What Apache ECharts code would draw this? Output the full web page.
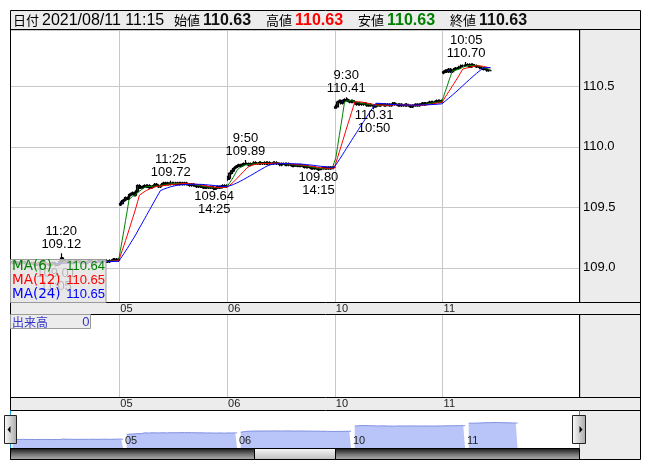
<!DOCTYPE html>
<html><head><meta charset="utf-8">
<script src="https://cdn.jsdelivr.net/npm/echarts@6/dist/echarts.min.js"></script>
<style>html,body{margin:0;padding:0;background:#fff}#c{width:653px;height:470px}</style>
</head><body><div id="c"></div><script>
// ---------------- data (5-minute bars, USD/JPY style prices) ----------------
const days = ['08/04', '08/05', '08/06', '08/10', '08/11'];
const dayTicks = ['04', '05', '06', '10', '11'];
const headerYear = '2021';

const open04 = [109.05,109.04,109.05,109.04,109.03,109.04,109.05,109.05,109.04,109.03,109.03, 109.04,109.04,109.03,109.02,109.03,109.04,109.04,109.05,109.04,109.03, 109.03,109.02,109.03,109.04,109.03,109.02,109.03,109.05,109.08,109.06, 109.05,109.05,109.06,109.05,109.04,109.05,109.05,109.06,109.05,109.04, 109.05,109.05,109.04,109.05,109.06,109.05,109.05,109.04,109.05,109.05, 109.06,109.05,109.06,109.06,109.05,109.05,109.06,109.06,109.07,109.06,109.07];
const high04 = [109.06,109.06,109.05,109.05,109.05,109.06,109.06,109.06,109.05,109.04,109.05, 109.05,109.05,109.04,109.04,109.05,109.05,109.06,109.06,109.05,109.04, 109.04,109.04,109.05,109.05,109.04,109.04,109.06,109.12,109.09,109.07, 109.06,109.07,109.07,109.06,109.06,109.06,109.07,109.07,109.06,109.06, 109.06,109.06,109.06,109.07,109.07,109.06,109.06,109.06,109.06,109.07, 109.07,109.07,109.07,109.07,109.06,109.07,109.07,109.08,109.08,109.08,109.08];
const low04 = [109.03,109.03,109.03,109.02,109.02,109.03,109.04,109.03,109.02,109.02,109.02, 109.03,109.02,109.02,109.02,109.02,109.03,109.03,109.03,109.02,109.02, 109.02,109.02,109.02,109.02,109.01,109.02,109.02,109.04,109.05,109.04, 109.04,109.04,109.04,109.03,109.03,109.04,109.04,109.04,109.03,109.03, 109.04,109.03,109.03,109.04,109.04,109.04,109.03,109.03,109.04,109.04, 109.04,109.04,109.05,109.04,109.04,109.04,109.05,109.05,109.05,109.05,109.05];
const close04 = [109.04,109.05,109.04,109.03,109.04,109.05,109.05,109.04,109.03,109.03,109.04, 109.04,109.03,109.02,109.03,109.04,109.04,109.05,109.04,109.03,109.03, 109.02,109.03,109.04,109.03,109.02,109.03,109.05,109.08,109.06,109.05, 109.05,109.06,109.05,109.04,109.05,109.05,109.06,109.05,109.04,109.05, 109.05,109.04,109.05,109.06,109.05,109.05,109.04,109.05,109.05,109.06, 109.05,109.06,109.06,109.05,109.05,109.06,109.06,109.07,109.06,109.07,109.06];

const open05 = [109.52,109.53,109.55,109.56,109.58,109.57,109.60,109.61,109.62,109.60,109.63, 109.68,109.67,109.66,109.67,109.68,109.67,109.68,109.66,109.67,109.68, 109.69,109.68,109.67,109.68,109.69,109.70,109.69,109.70,109.69,109.70, 109.70,109.69,109.70,109.69,109.70,109.70,109.69,109.70,109.69,109.69, 109.68,109.69,109.68,109.68,109.67,109.68,109.67,109.67,109.66,109.67, 109.66,109.66,109.67,109.66,109.65,109.66,109.67,109.66,109.67,109.68,109.67];
const high05 = [109.55,109.56,109.57,109.59,109.59,109.61,109.62,109.63,109.63,109.64,109.69, 109.69,109.68,109.68,109.69,109.69,109.69,109.69,109.68,109.69,109.70, 109.70,109.69,109.69,109.70,109.71,109.71,109.71,109.70,109.72,109.71, 109.71,109.71,109.71,109.71,109.71,109.71,109.71,109.71,109.70,109.70, 109.70,109.70,109.69,109.69,109.69,109.69,109.68,109.68,109.68,109.68, 109.67,109.68,109.68,109.67,109.67,109.68,109.68,109.68,109.69,109.69,109.69];
const low05 = [109.51,109.52,109.54,109.55,109.56,109.56,109.59,109.60,109.59,109.59,109.62, 109.65,109.65,109.65,109.66,109.66,109.66,109.65,109.65,109.66,109.67, 109.67,109.66,109.66,109.67,109.68,109.68,109.68,109.68,109.68,109.69, 109.68,109.68,109.68,109.68,109.69,109.68,109.68,109.68,109.68,109.67, 109.67,109.67,109.67,109.66,109.66,109.66,109.66,109.65,109.65,109.65, 109.65,109.65,109.65,109.64,109.65,109.65,109.65,109.66,109.66,109.66,109.66];
const close05 = [109.53,109.55,109.56,109.58,109.57,109.60,109.61,109.62,109.60,109.63,109.68, 109.67,109.66,109.67,109.68,109.67,109.68,109.66,109.67,109.68,109.69, 109.68,109.67,109.68,109.69,109.70,109.69,109.70,109.69,109.70,109.70, 109.69,109.70,109.69,109.70,109.70,109.69,109.70,109.69,109.69,109.68, 109.69,109.68,109.68,109.67,109.68,109.67,109.67,109.66,109.67,109.66, 109.66,109.67,109.66,109.65,109.66,109.67,109.66,109.67,109.68,109.67,109.68];

const open06 = [109.73,109.74,109.78,109.80,109.82,109.83,109.84,109.85,109.84,109.85,109.86, 109.86,109.86,109.85,109.86,109.86,109.87,109.86,109.86,109.87,109.86, 109.86,109.87,109.86,109.87,109.86,109.86,109.87,109.87,109.86,109.86, 109.85,109.86,109.86,109.85,109.86,109.85,109.85,109.84,109.85,109.85, 109.84,109.85,109.84,109.84,109.83,109.84,109.83,109.83,109.82,109.83, 109.82,109.82,109.81,109.82,109.82,109.83,109.82,109.82,109.83,109.82,109.83];
const high06 = [109.76,109.79,109.81,109.83,109.84,109.85,109.86,109.86,109.86,109.87,109.89, 109.87,109.87,109.87,109.87,109.88,109.88,109.87,109.88,109.88,109.87, 109.88,109.88,109.88,109.88,109.87,109.88,109.88,109.88,109.87,109.87, 109.87,109.87,109.87,109.87,109.87,109.86,109.86,109.86,109.86,109.86, 109.86,109.86,109.85,109.85,109.85,109.85,109.84,109.84,109.84,109.84, 109.83,109.83,109.83,109.83,109.84,109.84,109.83,109.84,109.84,109.84,109.84];
const low06 = [109.72,109.73,109.77,109.79,109.81,109.82,109.83,109.83,109.83,109.84,109.85, 109.85,109.84,109.84,109.85,109.85,109.85,109.85,109.85,109.85,109.85, 109.85,109.85,109.85,109.85,109.85,109.85,109.86,109.85,109.85,109.84, 109.84,109.85,109.84,109.84,109.84,109.84,109.83,109.83,109.84,109.83, 109.83,109.83,109.83,109.82,109.82,109.82,109.82,109.81,109.81,109.81, 109.81,109.80,109.81,109.81,109.81,109.81,109.81,109.81,109.81,109.82,109.82];
const close06 = [109.74,109.78,109.80,109.82,109.83,109.84,109.85,109.84,109.85,109.86,109.86, 109.86,109.85,109.86,109.86,109.87,109.86,109.86,109.87,109.86,109.86, 109.87,109.86,109.87,109.86,109.86,109.87,109.87,109.86,109.86,109.85, 109.86,109.86,109.85,109.86,109.85,109.85,109.84,109.85,109.85,109.84, 109.85,109.84,109.84,109.83,109.84,109.83,109.83,109.82,109.83,109.82, 109.82,109.81,109.82,109.82,109.83,109.82,109.82,109.83,109.82,109.83,109.83];

const open10 = [110.32,110.33,110.37,110.38,110.36,110.38,110.39,110.39,110.38,110.37,110.38, 110.37,110.36,110.35,110.36,110.35,110.35,110.36,110.35,110.34,110.35, 110.34,110.34,110.33,110.34,110.35,110.34,110.35,110.35,110.34,110.35, 110.35,110.34,110.35,110.36,110.35,110.35,110.34,110.35,110.34,110.34, 110.35,110.34,110.34,110.33,110.34,110.34,110.35,110.34,110.35,110.35, 110.36,110.35,110.36,110.36,110.37,110.36,110.37,110.37,110.38,110.37,110.38];
const high10 = [110.35,110.38,110.39,110.39,110.39,110.40,110.41,110.40,110.39,110.39,110.39, 110.38,110.37,110.37,110.37,110.36,110.37,110.37,110.36,110.36,110.36, 110.35,110.35,110.35,110.36,110.36,110.36,110.36,110.36,110.36,110.36, 110.36,110.36,110.37,110.37,110.36,110.36,110.36,110.36,110.35,110.36, 110.36,110.35,110.35,110.35,110.35,110.36,110.36,110.36,110.36,110.37, 110.37,110.37,110.37,110.38,110.38,110.38,110.38,110.39,110.39,110.39,110.39];
const low10 = [110.32,110.33,110.36,110.35,110.35,110.37,110.38,110.37,110.36,110.36,110.36, 110.35,110.34,110.34,110.34,110.34,110.34,110.34,110.33,110.33,110.33, 110.33,110.31,110.33,110.33,110.33,110.33,110.34,110.33,110.33,110.34, 110.33,110.33,110.34,110.34,110.34,110.33,110.33,110.33,110.33,110.33, 110.33,110.33,110.32,110.32,110.33,110.33,110.33,110.33,110.34,110.34, 110.34,110.34,110.35,110.35,110.35,110.35,110.36,110.36,110.36,110.36,110.36];
const close10 = [110.33,110.37,110.38,110.36,110.38,110.39,110.39,110.38,110.37,110.38,110.37, 110.36,110.35,110.36,110.35,110.35,110.36,110.35,110.34,110.35,110.34, 110.34,110.33,110.34,110.35,110.34,110.35,110.35,110.34,110.35,110.35, 110.34,110.35,110.36,110.35,110.35,110.34,110.35,110.34,110.34,110.35, 110.34,110.34,110.33,110.34,110.34,110.35,110.34,110.35,110.35,110.36, 110.35,110.36,110.36,110.37,110.36,110.37,110.37,110.38,110.37,110.38,110.37];

const open11 = [110.61,110.62,110.63,110.62,110.64,110.62,110.63,110.64,110.65,110.65,110.66, 110.67,110.67,110.67,110.68,110.68,110.66,110.68,110.67,110.67,110.66, 110.66,110.65,110.65,110.64,110.64,110.63,110.63];
const high11 = [110.63,110.64,110.64,110.65,110.65,110.64,110.65,110.66,110.66,110.67,110.68, 110.68,110.68,110.70,110.69,110.69,110.69,110.69,110.68,110.68,110.67, 110.67,110.66,110.66,110.65,110.65,110.64,110.63];
const low11 = [110.60,110.61,110.61,110.61,110.61,110.61,110.62,110.63,110.64,110.64,110.65, 110.66,110.66,110.66,110.67,110.65,110.65,110.66,110.66,110.65,110.65, 110.64,110.64,110.63,110.63,110.62,110.62,110.63];
const close11 = [110.62,110.63,110.62,110.64,110.62,110.63,110.64,110.65,110.65,110.66,110.67, 110.67,110.67,110.68,110.68,110.66,110.68,110.67,110.67,110.66,110.66, 110.65,110.65,110.64,110.64,110.63,110.63,110.63];

// swing high / low annotations shown on the chart
const swingDays   = ['08/04', '08/04', '08/05', '08/05', '08/06', '08/06', '08/10', '08/10', '08/11'];
const swingTimes  = ['11:20', '11:05', '11:25', '14:25', '9:50', '14:15', '9:30', '10:50', '10:05'];
const swingPrices = [109.12, 109.01, 109.72, 109.64, 109.89, 109.80, 110.41, 110.31, 110.70];
const swingKinds  = ['high', 'low', 'high', 'low', 'high', 'low', 'high', 'low', 'high'];

const maPeriods = [6, 12, 24];
const maColors = ['#008000', '#ff0000', '#0000ff'];
const volumeNow = 0;

// ---------------- assemble ----------------
const opens = [open04, open05, open06, open10, open11];
const highs = [high04, high05, high06, high10, high11];
const lows = [low04, low05, low06, low10, low11];
const closes = [close04, close05, close06, close10, close11];

const sessionTimes = [];
for (let m = 540; m <= 690; m += 5) sessionTimes.push(Math.floor(m / 60) + ':' + String(m % 60).padStart(2, '0'));
for (let m = 750; m <= 900; m += 5) sessionTimes.push(Math.floor(m / 60) + ':' + String(m % 60).padStart(2, '0'));

const TOTAL_SLOTS = 328;
const cats = ['pad0'];
const ohlc = [['-', '-', '-', '-']];
const closeSeq = [];
const dayStartIdx = {};
days.forEach((d, di) => {
  closes[di].forEach((c, i) => {
    if (i === 0 && di > 0) dayStartIdx[cats.length] = dayTicks[di];
    cats.push(d + ' ' + sessionTimes[i]);
    ohlc.push([opens[di][i], c, lows[di][i], highs[di][i]]);
    closeSeq.push(c);
  });
});
while (cats.length < TOTAL_SLOTS) cats.push('pad' + cats.length);

function movingAvg(n) {
  const out = ['-'];
  for (let i = 0; i < closeSeq.length; i++) {
    if (i < n - 1) { out.push('-'); continue; }
    let s = 0;
    for (let k = i - n + 1; k <= i; k++) s += closeSeq[k];
    out.push(+(s / n).toFixed(4));
  }
  return out;
}
const maData = maPeriods.map(movingAvg);

// navigator: one gap slot before each day, 62 slots per day
const navCats = [], navData = [], navStart = {};
days.forEach((d, di) => {
  if (di > 0) navStart[navCats.length] = dayTicks[di];
  navCats.push('g' + di); navData.push('-');
  for (let i = 0; i < 62; i++) {
    navCats.push(d + ' ' + sessionTimes[i]);
    navData.push(i < closes[di].length ? closes[di][i] : '-');
  }
});

const markData = swingDays.map((d, i) => {
  const isHigh = swingKinds[i] === 'high';
  const p = swingPrices[i].toFixed(2);
  return {
    coord: [cats.indexOf(d + ' ' + swingTimes[i]), swingPrices[i]],
    label: { position: isHigh ? 'top' : 'bottom', distance: isHigh ? 2 : 0,
      formatter: isHigh ? swingTimes[i] + '\n' + p : p + '\n' + swingTimes[i] }
  };
});

const last = ohlc[ohlc.length - 1];
const lastDay = days[days.length - 1];
const lastTime = sessionTimes[closes[closes.length - 1].length - 1];
const maLast = maData.map(a => a[a.length - 1].toFixed(2));

const NUM = "'Liberation Sans', Arial, sans-serif";
const CJK = "'Noto Sans CJK JP', sans-serif";
const GRID_L = 10, GRID_W = 570;

// ---------------- graphics (frame, header, legend boxes, navigator chrome) ----------------
const g = [];
const rect = (x, y, w, h, style, z) => g.push({ type: 'rect', z: z, shape: { x, y, width: w, height: h }, style });
const line = (x1, y1, x2, y2, stroke, z) => g.push({ type: 'line', z: z, shape: { x1, y1, x2, y2 }, style: { stroke: stroke || '#000', lineWidth: 1 } });
const text = (x, y, t, font, fill, align, z) => g.push({ type: 'text', z: z || 60, x, y, style: { text: t, font, fill, align: align || 'left', verticalAlign: 'middle' } });

// backgrounds
rect(580, 29.5, 60.5, 430, { fill: '#ececec' }, -1);
rect(10.5, 302.5, 630, 11.5, { fill: '#ececec' }, -1);
rect(10.5, 397.5, 630, 13, { fill: '#ececec' }, -1);
rect(10.5, 10.5, 630, 19, { fill: '#ececec' }, -1);
// frame lines
rect(10.5, 10.5, 630, 449, { fill: 'none', stroke: '#000', lineWidth: 1 }, 45);
line(10.5, 29.5, 640.5, 29.5, '#000', 45);
line(10.5, 302.5, 640.5, 302.5, '#000', 45);
line(10.5, 314.5, 640.5, 314.5, '#000', 45);
line(10.5, 397.5, 640.5, 397.5, '#000', 45);
line(10.5, 410.5, 640.5, 410.5, '#000', 45);
line(579.5, 29.5, 579.5, 302.5, '#000', 45);
line(579.5, 314.5, 579.5, 397.5, '#000', 45);
line(10.5, 410.5, 10.5, 448.5, '#1e9fdf', 46);
line(579.5, 410.5, 579.5, 448.5, '#1e9fdf', 46);

// header
text(13, 20.5, '日付', '13px ' + CJK, '#000');
text(42, 20.5, headerYear + '/' + lastDay + ' ' + lastTime, '16px ' + NUM, '#000');
text(174, 20.5, '始値', '13px ' + CJK, '#000');
text(203, 20.5, last[0].toFixed(2), 'bold 16px ' + NUM, '#111');
text(266, 20.5, '高値', '13px ' + CJK, '#000');
text(295, 20.5, last[3].toFixed(2), 'bold 16px ' + NUM, '#ff0000');
text(358, 20.5, '安値', '13px ' + CJK, '#000');
text(387, 20.5, last[2].toFixed(2), 'bold 16px ' + NUM, '#008000');
text(450, 20.5, '終値', '13px ' + CJK, '#000');
text(479, 20.5, last[1].toFixed(2), 'bold 16px ' + NUM, '#111');

// MA legend box
rect(10.5, 259.5, 95.5, 43, { fill: 'rgba(226,226,226,0.8)', stroke: '#9a9a9a', lineWidth: 1 }, 50);
maPeriods.forEach((p, i) => {
  const y = 266.5 + i * 14;
  text(12, y, 'MA(' + p + ')', "13.5px 'DejaVu Sans', sans-serif", maColors[i]);
  text(105, y, maLast[i], '13px ' + NUM, maColors[i], 'right');
});

// volume box
rect(10.5, 314.5, 80, 14, { fill: '#ececec', stroke: '#9a9a9a', lineWidth: 1 }, 50);
text(12, 322, '出来高', '12px ' + CJK, '#3434c8');
text(89.5, 322, String(volumeNow), '13px ' + NUM, '#3434c8', 'right');

// scrollbar
rect(10.5, 448.5, 569, 11, { fill: { type: 'linear', x: 0, y: 0, x2: 0, y2: 1, colorStops: [{ offset: 0, color: '#111' }, { offset: 0.55, color: '#777' }, { offset: 1, color: '#b5b5b5' }] }, stroke: '#000', lineWidth: 1 }, 50);
rect(254.5, 448.5, 81, 11, { fill: { type: 'linear', x: 0, y: 0, x2: 0, y2: 1, colorStops: [{ offset: 0, color: '#fafafa' }, { offset: 1, color: '#bdbdbd' }] }, stroke: '#000', lineWidth: 1 }, 51);
// navigator buttons
const btnFill = { type: 'linear', x: 0, y: 0, x2: 1, y2: 0, colorStops: [{ offset: 0, color: '#fdfdfd' }, { offset: 1, color: '#a8a8a8' }] };
rect(4.5, 415.5, 12, 28, { fill: btnFill, stroke: '#222', lineWidth: 1 }, 55);
rect(572.5, 415.5, 13, 28, { fill: btnFill, stroke: '#222', lineWidth: 1 }, 55);
g.push({ type: 'polygon', z: 56, shape: { points: [[7.5, 429.5], [10.5, 426], [10.5, 433]] }, style: { fill: '#000' } });
g.push({ type: 'polygon', z: 56, shape: { points: [[582.5, 429.5], [579.5, 426], [579.5, 433]] }, style: { fill: '#000' } });

// ---------------- chart ----------------
const dayTickFn = (idx) => dayStartIdx[idx] !== undefined;
const navTickFn = (idx) => navStart[idx] !== undefined;
const xBase = {
  type: 'category', data: cats, boundaryGap: true,
  axisLine: { show: false }, axisTick: { show: false },
  splitLine: { show: true, interval: dayTickFn, lineStyle: { color: '#c8c8c8', width: 1 } },
  axisLabel: { show: true, interval: dayTickFn, formatter: (v, i) => dayStartIdx[i] || v.slice(3, 5), align: 'left', margin: 1,
    fontSize: 11, fontFamily: NUM, color: '#222' }
};

const option = {
  animation: false,
  backgroundColor: '#fff',
  graphic: { elements: g },
  grid: [
    { left: GRID_L, top: 30, width: GRID_W, height: 272.5, show: false },
    { left: GRID_L, top: 315, width: GRID_W, height: 82.5, show: false },
    { left: GRID_L, top: 411, width: GRID_W, height: 37.5, show: false }
  ],
  xAxis: [
    Object.assign({}, xBase, { gridIndex: 0 }),
    Object.assign({}, xBase, { gridIndex: 1, axisLabel: Object.assign({}, xBase.axisLabel, { margin: 1 }) }),
    { type: 'category', gridIndex: 2, data: navCats, boundaryGap: true, z: 10,
      axisLine: { show: false }, axisTick: { show: false }, splitLine: { show: false },
      axisLabel: { show: true, inside: true, interval: navTickFn, formatter: (v, i) => navStart[i] || '', align: 'left', margin: 2,
        fontSize: 11, fontFamily: NUM, color: '#222' } }
  ],
  yAxis: [
    { type: 'value', gridIndex: 0, position: 'right', min: 108.713, max: 110.965, minInterval: 0.5, maxInterval: 0.5, scale: true,
      axisLine: { show: false }, axisTick: { show: false },
      splitLine: { show: true, lineStyle: { color: '#c8c8c8', width: 1 } },
      axisLabel: { margin: 3, fontSize: 13, fontFamily: NUM, color: '#000',
        formatter: v => (Math.abs(v * 2 - Math.round(v * 2)) < 1e-6 ? v.toFixed(1) : '') } },
    { type: 'value', gridIndex: 1, min: 0, max: 1, show: false, splitLine: { show: false } },
    { type: 'value', gridIndex: 2, min: 108.16, max: 111.8, show: false, splitLine: { show: false } }
  ],
  series: [
    { type: 'candlestick', xAxisIndex: 0, yAxisIndex: 0, data: ohlc, barWidth: 2.4, z: 3,
      itemStyle: { color: '#1c1cf0', color0: '#000000', borderColor: '#000', borderColor0: '#000', borderColorDoji: '#000', borderWidth: 1.2 },
      markPoint: { symbol: 'circle', symbolSize: 0, silent: true, data: markData,
        label: { show: true, color: '#000', fontSize: 13, fontFamily: NUM, lineHeight: 13 } } },
    ...maPeriods.map((p, i) => ({ type: 'line', xAxisIndex: 0, yAxisIndex: 0, data: maData[i], showSymbol: false, z: 4,
      lineStyle: { color: maColors[i], width: 1 }, connectNulls: false })),
    { type: 'line', xAxisIndex: 2, yAxisIndex: 2, data: navData, showSymbol: false, connectNulls: false, z: 1,
      lineStyle: { color: '#8090e0', width: 1 }, areaStyle: { color: '#b9c4f8', opacity: 1 } }
  ]
};
const chart = echarts.init(document.getElementById('c'), null, { width: 653, height: 470 });
chart.setOption(option);
</script></body></html>
